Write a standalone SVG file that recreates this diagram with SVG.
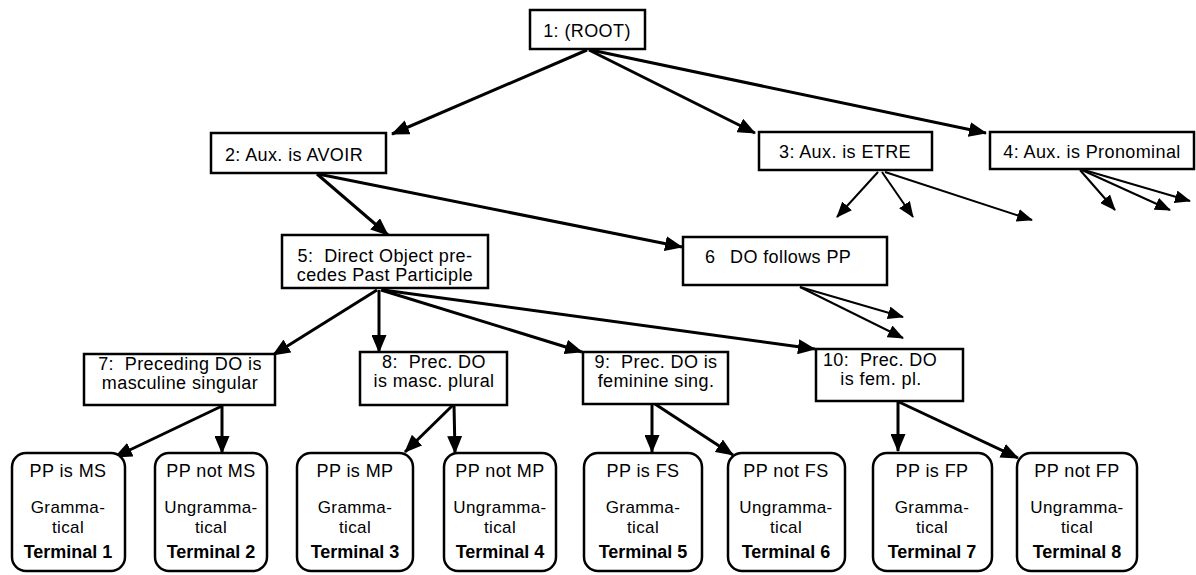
<svg xmlns="http://www.w3.org/2000/svg" width="1196" height="575" viewBox="0 0 1196 575">
<style>
.box{fill:#fff;stroke:#000;stroke-width:2.5}
.term{fill:#fff;stroke:#000;stroke-width:2.5}
text{font-family:"Liberation Sans",Arial,sans-serif;font-size:18px;fill:#000;text-anchor:middle;letter-spacing:0.4px}
.s{font-size:17px}
.l{text-anchor:start}
.b{font-weight:bold;letter-spacing:0}
.e{fill:none;stroke:#000;stroke-width:3;marker-end:url(#ah)}
.d{fill:none;stroke:#000;stroke-width:2;marker-end:url(#ah2)}
</style>
<defs>
<marker id="ah" viewBox="0 0 18 15" refX="17" refY="7.5" markerWidth="18" markerHeight="15" markerUnits="userSpaceOnUse" orient="auto">
<path d="M0,0 L18,7.5 L0,15 z" fill="#000"/>
</marker>
<marker id="ah2" viewBox="0 0 16 13" refX="15" refY="6.5" markerWidth="16" markerHeight="13" markerUnits="userSpaceOnUse" orient="auto">
<path d="M0,0 L16,6.5 L0,13 z" fill="#000"/>
</marker>
</defs>
<rect width="1196" height="575" fill="#fff"/>
<g id="connectors">
<path class="e" d="M587,50 L392,134"/>
<path class="e" d="M589,50 L755,133"/>
<path class="e" d="M591,50 L986,133"/>
<path class="e" d="M317,174 L388,235"/>
<path class="e" d="M318,174 L682,247"/>
<path class="d" d="M878,172 L837,217"/>
<path class="d" d="M882,172 L913,217"/>
<path class="d" d="M885,172 L1032,220"/>
<path class="d" d="M1080,170 L1115,210"/>
<path class="d" d="M1082,170 L1170,210"/>
<path class="d" d="M1084,170 L1190,201"/>
<path class="e" d="M377,290 L273,355"/>
<path class="e" d="M379,290 L379,352"/>
<path class="e" d="M381,290 L582,352"/>
<path class="e" d="M383,290 L815,349"/>
<path class="d" d="M800,287 L903,317"/>
<path class="d" d="M800,287 L903,338"/>
<path class="e" d="M222,406 L115,457"/>
<path class="e" d="M222,406 L222,453"/>
<path class="e" d="M453,405 L405,452"/>
<path class="e" d="M454,405 L455,453"/>
<path class="e" d="M652,404 L652,452"/>
<path class="e" d="M655,404 L733,455"/>
<path class="e" d="M898,402 L898,451"/>
<path class="e" d="M899,402 L1018,458"/>
</g>
<g id="n1"><rect class="box" x="530" y="10" width="115" height="39"/><text x="587" y="37">1: (ROOT)</text></g>
<g id="n2"><rect class="box" x="211" y="133" width="175" height="40"/><text x="294" y="161">2: Aux. is AVOIR</text></g>
<g id="n3"><rect class="box" x="759" y="132" width="173" height="38"/><text x="845" y="158">3: Aux. is ETRE</text></g>
<g id="n4"><rect class="box" x="990" y="132" width="204" height="37"/><text x="1092" y="158">4: Aux. is Pronominal</text></g>
<g id="n5"><rect class="box" x="282" y="235" width="206" height="53"/><text x="385" y="262">5:&#160; Direct Object pre-</text><text x="385" y="281">cedes Past Participle</text></g>
<g id="n6"><rect class="box" x="683" y="237" width="204" height="48"/><text class="l" x="705" y="263">6</text><text class="l" x="730" y="263">DO follows PP</text></g>
<g id="n7"><rect class="box" x="84" y="354" width="191" height="51"/><text x="180" y="370">7:&#160; Preceding DO is</text><text x="180" y="389">masculine singular</text></g>
<g id="n8"><rect class="box" x="360" y="352" width="147" height="53"/><text x="434" y="368">8:&#160; Prec. DO</text><text x="434" y="387">is masc. plural</text></g>
<g id="n9"><rect class="box" x="583" y="352" width="145" height="52"/><text x="656" y="368">9:&#160; Prec. DO is</text><text x="656" y="387">feminine sing.</text></g>
<g id="n10"><rect class="box" x="816" y="349" width="147" height="52"/><text x="880" y="366">10:&#160; Prec. DO</text><text x="881" y="385">is fem. pl.</text></g>
<g id="t1"><rect class="term" x="12" y="453" width="113" height="118" rx="14"/><text x="68" y="477">PP is MS</text><text class="s" x="68" y="513">Gramma-</text><text class="s" x="68" y="533">tical</text><text class="b" x="68" y="558">Terminal 1</text></g>
<g id="t2"><rect class="term" x="155" y="453" width="112" height="118" rx="14"/><text x="211" y="477">PP not MS</text><text class="s" x="211" y="513">Ungramma-</text><text class="s" x="211" y="533">tical</text><text class="b" x="211" y="558">Terminal 2</text></g>
<g id="t3"><rect class="term" x="297" y="453" width="116" height="118" rx="14"/><text x="355" y="477">PP is MP</text><text class="s" x="355" y="513">Gramma-</text><text class="s" x="355" y="533">tical</text><text class="b" x="355" y="558">Terminal 3</text></g>
<g id="t4"><rect class="term" x="444" y="453" width="112" height="118" rx="14"/><text x="500" y="477">PP not MP</text><text class="s" x="500" y="513">Ungramma-</text><text class="s" x="500" y="533">tical</text><text class="b" x="500" y="558">Terminal 4</text></g>
<g id="t5"><rect class="term" x="584" y="453" width="118" height="118" rx="14"/><text x="643" y="477">PP is FS</text><text class="s" x="643" y="513">Gramma-</text><text class="s" x="643" y="533">tical</text><text class="b" x="643" y="558">Terminal 5</text></g>
<g id="t6"><rect class="term" x="728" y="453" width="117" height="118" rx="14"/><text x="786" y="477">PP not FS</text><text class="s" x="786" y="513">Ungramma-</text><text class="s" x="786" y="533">tical</text><text class="b" x="786" y="558">Terminal 6</text></g>
<g id="t7"><rect class="term" x="873" y="453" width="119" height="118" rx="14"/><text x="932" y="477">PP is FP</text><text class="s" x="932" y="513">Gramma-</text><text class="s" x="932" y="533">tical</text><text class="b" x="932" y="558">Terminal 7</text></g>
<g id="t8"><rect class="term" x="1017" y="453" width="120" height="118" rx="14"/><text x="1077" y="477">PP not FP</text><text class="s" x="1077" y="513">Ungramma-</text><text class="s" x="1077" y="533">tical</text><text class="b" x="1077" y="558">Terminal 8</text></g>
</svg>
